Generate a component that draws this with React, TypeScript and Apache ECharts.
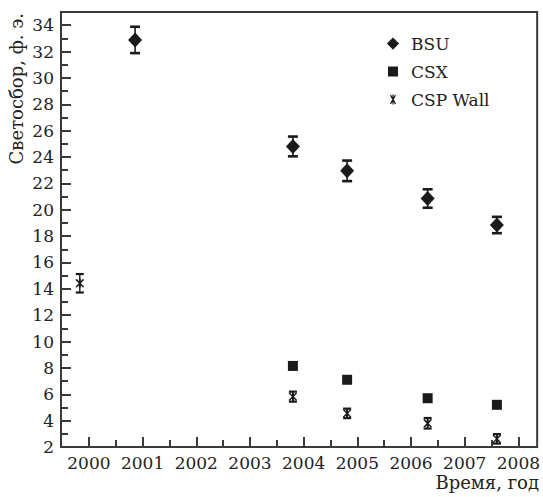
import React, { useEffect, useRef } from 'react';
import * as echarts from 'echarts';

const bsuYears = [2000.86, 2003.8, 2004.81, 2006.31, 2007.6];
const bsuValues = [32.88, 24.8, 22.95, 20.85, 18.84];
const bsuErrors = [1.0, 0.75, 0.78, 0.7, 0.62];
const csxYears = [2003.8, 2004.81, 2006.31, 2007.6];
const csxValues = [8.15, 7.1, 5.7, 5.2];
const cspYears = [1999.83, 2003.8, 2004.81, 2006.31, 2007.6];
const cspValues = [14.42, 5.82, 4.55, 3.8, 2.62];
const cspErrors = [0.7, 0.38, 0.36, 0.4, 0.36];

const yearTicks = [2000, 2001, 2002, 2003, 2004, 2005, 2006, 2007, 2008];
const halfYearTicks = [2000.5, 2001.5, 2002.5, 2003.5, 2004.5, 2005.5, 2006.5, 2007.5];
const yMajorTicks = [2, 4, 6, 8, 10, 12, 14, 16, 18, 20, 22, 24, 26, 28, 30, 32, 34];
const yMinorTicks = [3, 5, 7, 9, 11, 13, 15, 17, 19, 21, 23, 25, 27, 29, 31, 33];

const xMin = 1999.48;
const xMax = 2008.35;
const yMin = 2;
const yMax = 35;

const FONT = 'DejaVu Serif';
const INK = '#1a1a1a';
const AXIS = '#3a3a3a';
const TEXT = '#222';

const starPath =
  'M4.4 0 L5.6 0 L5.6 10 L4.4 10 Z ' +
  'M1.98 0.97 L3.02 0.37 L8.02 9.03 L6.98 9.63 Z ' +
  'M6.98 0.37 L8.02 0.97 L3.02 9.63 L1.98 9.03 Z';

function errorRenderer(capWidth: number, lineW: number, capW: number) {
  return (params: any, api: any) => {
    const x = api.value(0);
    const y = api.value(1);
    const e = api.value(2);
    const top = api.coord([x, y + e]);
    const bot = api.coord([x, y - e]);
    const hw = capWidth / 2;
    return {
      type: 'group',
      children: [
        { type: 'line', shape: { x1: top[0], y1: top[1], x2: bot[0], y2: bot[1] }, style: { stroke: INK, lineWidth: lineW } },
        { type: 'line', shape: { x1: top[0] - hw, y1: top[1], x2: top[0] + hw, y2: top[1] }, style: { stroke: INK, lineWidth: capW } },
        { type: 'line', shape: { x1: bot[0] - hw, y1: bot[1], x2: bot[0] + hw, y2: bot[1] }, style: { stroke: INK, lineWidth: capW } },
      ],
    };
  };
}

export default function App() {
  const ref = useRef<HTMLDivElement>(null);
  useEffect(() => {
    if (!ref.current) return;
    const chart = echarts.init(ref.current, null, { renderer: 'svg' });
    const bsuData = bsuYears.map((x, i) => [x, bsuValues[i]]);
    const csxData = csxYears.map((x, i) => [x, csxValues[i]]);
    const cspData = cspYears.map((x, i) => [x, cspValues[i]]);
    const bsuErrData = bsuYears.map((x, i) => [x, bsuValues[i], bsuErrors[i]]);
    const cspErrData = cspYears.map((x, i) => [x, cspValues[i], cspErrors[i]]);

    const commonX = { type: 'value', min: xMin, max: xMax, splitLine: { show: false } };
    const commonY = { type: 'value', min: yMin, max: yMax, splitLine: { show: false } };

    chart.setOption({
      animation: false,
      backgroundColor: '#ffffff',
      textStyle: { fontFamily: FONT },
      grid: { left: 61, right: 5, top: 12, bottom: 50, show: true, borderColor: AXIS, borderWidth: 2, backgroundColor: 'transparent' },
      xAxis: [
        {
          ...commonX,
          position: 'bottom',
          axisLine: { show: true, lineStyle: { color: AXIS, width: 2 } },
          axisTick: { show: true, inside: true, length: 7, customValues: halfYearTicks, lineStyle: { color: AXIS, width: 2 } },
          axisLabel: {
            show: true, customValues: yearTicks, margin: 7,
            formatter: (v: number) => String(Math.round(v)),
            fontFamily: FONT, fontSize: 17, color: TEXT,
          },
        },
        {
          ...commonX,
          position: 'bottom',
          axisLine: { show: false },
          axisTick: { show: true, inside: true, length: 10, customValues: yearTicks, lineStyle: { color: AXIS, width: 2 } },
          axisLabel: { show: false },
        },
      ],
      yAxis: [
        {
          ...commonY,
          position: 'left',
          axisLine: { show: true, lineStyle: { color: AXIS, width: 2 } },
          axisTick: { show: true, inside: true, length: 10, customValues: yMajorTicks, lineStyle: { color: AXIS, width: 2 } },
          axisLabel: {
            show: true, customValues: yMajorTicks, margin: 7,
            formatter: (v: number) => String(Math.round(v)),
            fontFamily: FONT, fontSize: 17, color: TEXT,
          },
        },
        {
          ...commonY,
          position: 'left',
          axisLine: { show: false },
          axisTick: { show: true, inside: true, length: 7, customValues: yMinorTicks, lineStyle: { color: AXIS, width: 2 } },
          axisLabel: { show: false },
        },
      ],
      legend: {
        orient: 'vertical',
        left: 386,
        top: 35,
        padding: 0,
        itemWidth: 14,
        itemHeight: 14,
        itemGap: 11,
        selectedMode: false,
        textStyle: { fontFamily: FONT, fontSize: 17, color: TEXT, padding: [0, 0, 0, 6] },
        data: [
          { name: 'BSU', icon: 'path://M7 0 L14 7 L7 14 L0 7 Z M-1 0 M15 14' },
          { name: 'CSX', icon: 'path://M-2 -2 M12 12 M0 0 L10 0 L10 10 L0 10 Z' },
          { name: 'CSP Wall', icon: 'path://M-2 -2 M12 12 ' + starPath },
        ],
      },
      graphic: [
        {
          type: 'text',
          x: 16,
          y: 13,
          rotation: Math.PI / 2,
          style: { text: 'Светосбор, ф. э.', fontFamily: FONT, fontSize: 18, fill: TEXT, align: 'right', verticalAlign: 'middle' },
        },
        {
          type: 'text',
          x: 539,
          y: 482,
          style: { text: 'Время, год', fontFamily: FONT, fontSize: 18, fill: TEXT, align: 'right', verticalAlign: 'middle' },
        },
      ],
      series: [
        {
          name: 'BSU err', type: 'custom', xAxisIndex: 0, yAxisIndex: 0, z: 2,
          data: bsuErrData, encode: { x: 0, y: 1 },
          renderItem: errorRenderer(10, 1.6, 2.6),
        },
        {
          name: 'CSP err', type: 'custom', xAxisIndex: 0, yAxisIndex: 0, z: 2,
          data: cspErrData, encode: { x: 0, y: 1 },
          renderItem: errorRenderer(8, 1.4, 2.2),
        },
        {
          name: 'BSU', type: 'scatter', xAxisIndex: 0, yAxisIndex: 0, z: 3,
          symbol: 'diamond', symbolSize: [14, 15], data: bsuData,
          itemStyle: { color: INK, opacity: 1 },
        },
        {
          name: 'CSX', type: 'scatter', xAxisIndex: 0, yAxisIndex: 0, z: 3,
          symbol: 'rect', symbolSize: 10, data: csxData,
          itemStyle: { color: INK, opacity: 1 },
        },
        {
          name: 'CSP Wall', type: 'scatter', xAxisIndex: 0, yAxisIndex: 0, z: 3,
          symbol: 'path://' + starPath, symbolSize: 9, data: cspData,
          itemStyle: { color: INK, opacity: 1 },
        },
      ],
    });
    return () => chart.dispose();
  }, []);
  return <div ref={ref} style={{ position: 'fixed', left: 0, top: 0, width: 543, height: 497 }} />;
}
